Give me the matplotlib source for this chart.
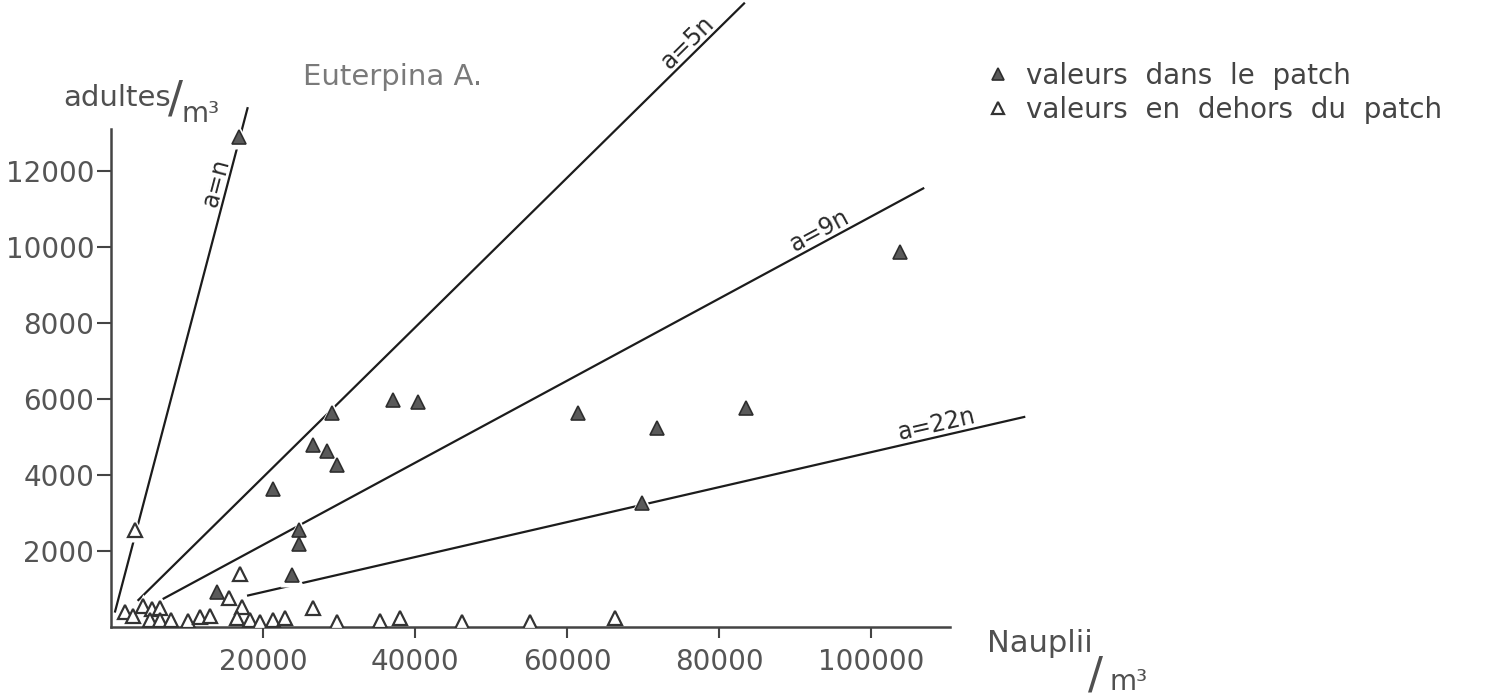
import numpy as np
import matplotlib.pyplot as plt

# points "dans le patch" (filled) and "en dehors du patch" (open)
in_x = [16900, 103800, 29100, 37100, 40400, 61400, 71800, 83600, 69900,
        26600, 28400, 29700, 21300, 24700, 24700, 23800, 13900]
in_y = [12900, 9870, 5630, 5970, 5920, 5630, 5240, 5760, 3260,
        4790, 4630, 4260, 3630, 2550, 2180, 1370, 920]

out_x = [1840, 2900, 4200, 5400, 6400, 5100, 6400, 7900, 10100, 11700, 13000,
         3160, 17000, 15500, 17200, 16600, 18300, 19600, 21300, 22900, 26600,
         29700, 35400, 38000, 46200, 55100, 66300]
out_y = [390, 290, 550, 470, 500, 180, 180, 180, 160, 260, 290,
         2550, 1400, 760, 530, 240, 180, 130, 180, 240, 500,
         130, 160, 240, 130, 130, 240]

# reference lines a = k n (slope as drawn, x extent)
line_labels = ['a=n', 'a=5n', 'a=9n', 'a=22n']
line_slopes = [0.76, 0.197, 0.108, 0.046]
line_x0 = [500, 3500, 6800, 17900]
line_x1 = [18000, 83400, 107000, 120300]
label_x = [15300, 77000, 94000, 109000]

x_ticks = [20000, 40000, 60000, 80000, 100000]
y_ticks = [2000, 4000, 6000, 8000, 10000, 12000]

W, H = 1497, 699
fig = plt.figure(figsize=(W / 100, H / 100), dpi=100)
ax = fig.add_axes([111 / W, 72 / H, 988 / W, 627 / H])
ax.set_xlim(0, 130000)
ax.set_ylim(0, 16500)

ink = '#1c1c1c'
grey = '#505050'

for s, x0, x1 in zip(line_slopes, line_x0, line_x1):
    xs = np.array([x0, x1])
    ax.plot(xs, s * xs, color=ink, lw=1.6, zorder=2, solid_capstyle='butt')

# white halos so lines break around the points, like the drawing
ax.plot(in_x + out_x, in_y + out_y, '^', ms=17, color='white', mec='none',
        ls='none', zorder=2.2)
ax.plot(in_x, in_y, '^', ms=10, mfc='#5a5a5a', mec='#2e2e2e', mew=1.2,
        ls='none', zorder=3, label='valeurs  dans  le  patch')
ax.plot(out_x, out_y, '^', ms=10, mfc='white', mec='#333333', mew=1.6,
        ls='none', zorder=3, label='valeurs  en  dehors  du  patch')

def line_angle(slope):
    p0 = ax.transData.transform((0, 0))
    p1 = ax.transData.transform((10000, 10000 * slope))
    return np.degrees(np.arctan2(p1[1] - p0[1], p1[0] - p0[0]))

for lab, s, lx in zip(line_labels, line_slopes, label_x):
    ax.text(lx, s * lx, lab, rotation=line_angle(s), rotation_mode='anchor',
            ha='center', va='bottom', fontsize=17, color='#2a2a2a')

for side in ('top', 'right'):
    ax.spines[side].set_visible(False)
ax.spines['left'].set_bounds(0, 13100)
ax.spines['bottom'].set_bounds(0, 110400)
for side in ('left', 'bottom'):
    ax.spines[side].set_linewidth(1.8)
    ax.spines[side].set_color('#444444')
    ax.spines[side].set_zorder(2.5)

ax.set_xticks(x_ticks)
ax.set_xticklabels([str(v) for v in x_ticks])
ax.set_yticks(y_ticks)
ax.set_yticklabels([str(v) for v in y_ticks])
ax.tick_params(axis='y', direction='out', length=10, width=1.5, pad=2,
               labelsize=20, labelcolor='#555555', color='#444444')
ax.tick_params(axis='x', direction='out', length=8, width=1.5, pad=7,
               labelsize=20, labelcolor='#555555', color='#444444')

ax.text(25260, 14260, 'Euterpina A.', fontsize=21, color='#7a7a7a',
        ha='left', va='baseline')

# axis titles written as "adultes/m³" and "Nauplii/m³"
fig.text(63 / W, 1 - 106 / H, 'adultes', fontsize=21, color=grey, va='baseline')
fig.text(176 / W, 1 - 100 / H, '/', fontsize=32, color=grey, ha='center', va='center')
fig.text(182 / W, 1 - 122 / H, 'm³', fontsize=20, color=grey, va='baseline')
fig.text(987 / W, 1 - 652 / H, 'Nauplii', fontsize=22, color=grey, va='baseline')
fig.text(1096 / W, 1 - 676 / H, '/', fontsize=32, color=grey, ha='center', va='center')
fig.text(1110 / W, 1 - 690 / H, 'm³', fontsize=20, color=grey, va='baseline')

ax.legend(loc='upper left', bbox_to_anchor=(987 / W, 1 - 62 / H),
          bbox_transform=fig.transFigure, frameon=False, fontsize=20,
          markerscale=0.9, handlelength=0.8, handletextpad=0.6,
          labelspacing=0.2, borderpad=0, borderaxespad=0, labelcolor='#444444')

fig.savefig('out.png', dpi=100)
